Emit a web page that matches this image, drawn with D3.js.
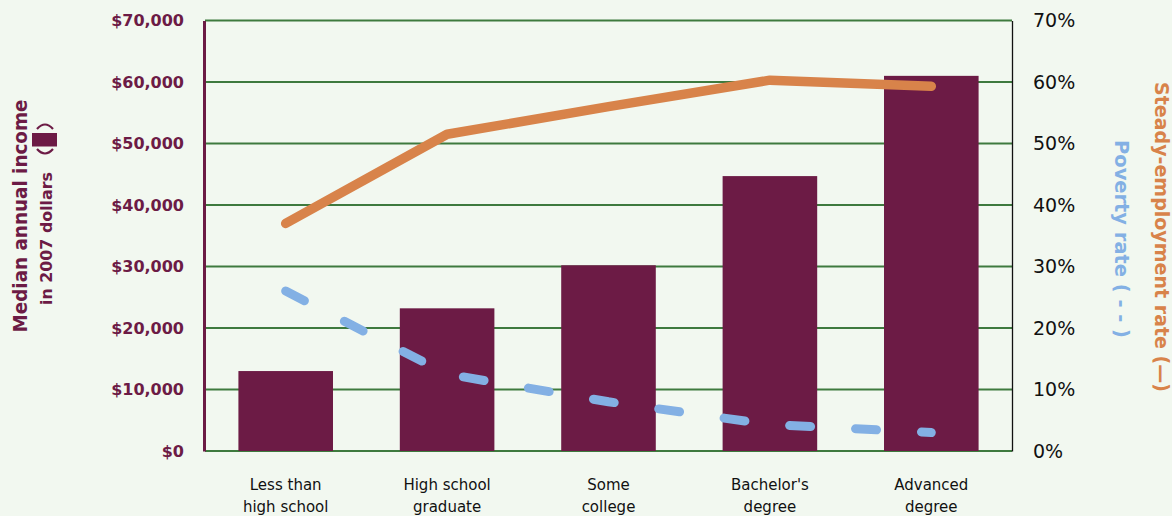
<!DOCTYPE html>
<html>
<head>
<meta charset="utf-8">
<script src="https://cdn.jsdelivr.net/npm/d3@7"></script>
<style>
  html, body { margin: 0; padding: 0; background: #f2f8f0; }
  svg { display: block; }
</style>
</head>
<body>
<div id="chart"></div>
<script>
// ---- Data ----
const categories = [["Less than", "high school"], ["High school", "graduate"], ["Some", "college"], ["Bachelor's", "degree"], ["Advanced", "degree"]];
const incomeValues = [13000, 23200, 30200, 44700, 61000];
const steadyEmploymentRate = [37, 51.5, 56, 60.3, 59.3];
const povertyRate = [26, 12.5, 8, 4.3, 3];
const incomeTicks = [0, 10000, 20000, 30000, 40000, 50000, 60000, 70000];
const percentTicks = [0, 10, 20, 30, 40, 50, 60, 70];

// ---- Layout ----
const W = 1172, H = 516;
const plotLeft = 205, plotRight = 1012, plotTop = 20.5, plotBottom = 451;
const purple = "#6c1b45", orange = "#d8834a", blue = "#83b0e4", green = "#3e7a3e";

const svg = d3.select("#chart").append("svg").attr("width", W).attr("height", H);
svg.append("rect").attr("width", W).attr("height", H).attr("fill", "#f2f8f0");

const catKeys = categories.map(c => c.join(" "));
const x = d3.scaleBand().domain(catKeys).range([plotLeft, plotRight]).paddingInner(0.414).paddingOuter(0.207);
const yL = d3.scaleLinear().domain([0, 70000]).range([plotBottom, plotTop]);
const yR = d3.scaleLinear().domain([0, 70]).range([plotBottom, plotTop]);

// gridlines
svg.append("g").selectAll("line").data(incomeTicks).join("line")
  .attr("x1", plotLeft).attr("x2", plotRight)
  .attr("y1", d => yL(d)).attr("y2", d => yL(d))
  .attr("stroke", green).attr("stroke-width", 2);

// bars
svg.append("g").selectAll("rect").data(incomeValues).join("rect")
  .attr("x", (d, i) => x(catKeys[i]))
  .attr("width", x.bandwidth())
  .attr("y", d => yL(d))
  .attr("height", d => yL(0) - yL(d))
  .attr("fill", purple);

// left axis
const axL = svg.append("g").attr("transform", `translate(${plotLeft - 1},0)`)
  .call(d3.axisLeft(yL).tickValues(incomeTicks).tickSize(0).tickPadding(20)
    .tickFormat(d => "$" + d3.format(",")(d)));
axL.select(".domain").attr("stroke", purple).attr("stroke-width", 3);
axL.selectAll("text").attr("fill", purple).attr("font-family", "DejaVu Sans")
  .attr("font-weight", "bold").attr("font-size", 16);

// right axis
const axR = svg.append("g").attr("transform", `translate(${plotRight},0)`)
  .call(d3.axisRight(yR).tickValues(percentTicks).tickSize(0).tickPadding(21)
    .tickFormat(d => d + "%"));
axR.select(".domain").attr("stroke", "#111").attr("stroke-width", 1.3);
axR.selectAll("text").attr("fill", "#111").attr("font-family", "DejaVu Sans")
  .attr("font-size", 19);

// category labels
const xl = svg.append("g");
categories.forEach((c, i) => {
  const t = xl.append("text")
    .attr("x", x(catKeys[i]) + x.bandwidth() / 2)
    .attr("text-anchor", "middle")
    .attr("font-family", "DejaVu Sans").attr("font-size", 15).attr("fill", "#111");
  c.forEach((line, j) => t.append("tspan")
    .attr("x", x(catKeys[i]) + x.bandwidth() / 2)
    .attr("y", 490 + j * 21.5).text(line));
});

// lines
const cx = i => x(catKeys[i]) + x.bandwidth() / 2;
const lineGen = d3.line().x((d, i) => cx(i)).y(d => yR(d));
svg.append("path").datum(steadyEmploymentRate).attr("d", lineGen)
  .attr("fill", "none").attr("stroke", orange).attr("stroke-width", 9.5)
  .attr("stroke-linecap", "round").attr("stroke-linejoin", "round");
svg.append("path").datum(povertyRate).attr("d", lineGen)
  .attr("fill", "none").attr("stroke", blue).attr("stroke-width", 9)
  .attr("stroke-linecap", "round").attr("stroke-dasharray", "21,45");

// left title
svg.append("text").attr("transform", "translate(27,216) rotate(-90)")
  .attr("text-anchor", "middle").attr("font-family", "DejaVu Sans").attr("font-weight", "bold")
  .attr("font-size", 19).attr("fill", purple)
  .attr("textLength", 233).attr("lengthAdjust", "spacingAndGlyphs")
  .text("Median annual income");
svg.append("text").attr("transform", "translate(52,238.5) rotate(-90)")
  .attr("text-anchor", "middle").attr("font-family", "DejaVu Sans").attr("font-weight", "bold")
  .attr("font-size", 16).attr("fill", purple)
  .attr("textLength", 133).attr("lengthAdjust", "spacingAndGlyphs")
  .text("in 2007 dollars");
// legend swatch (bar) with parentheses drawn as arcs
svg.append("path").attr("d", "M37,149 Q45,158 53,149")
  .attr("fill", "none").attr("stroke", purple).attr("stroke-width", 2.2);
svg.append("rect").attr("x", 32).attr("y", 133).attr("width", 25).attr("height", 13.5).attr("fill", purple);
svg.append("path").attr("d", "M37,129 Q45,120 53,129")
  .attr("fill", "none").attr("stroke", purple).attr("stroke-width", 2.2);

// right titles
svg.append("text").attr("transform", "translate(1154.5,237) rotate(90)")
  .attr("text-anchor", "middle").attr("font-family", "DejaVu Sans").attr("font-weight", "bold")
  .attr("font-size", 19).attr("fill", orange)
  .attr("textLength", 310).attr("lengthAdjust", "spacingAndGlyphs")
  .text("Steady-employment rate (—)");
svg.append("text").attr("transform", "translate(1115,239) rotate(90)")
  .attr("text-anchor", "middle").attr("font-family", "DejaVu Sans").attr("font-weight", "bold")
  .attr("font-size", 19).attr("fill", blue)
  .attr("textLength", 198).attr("lengthAdjust", "spacingAndGlyphs")
  .text("Poverty rate ( - - )");
</script>
</body>
</html>
